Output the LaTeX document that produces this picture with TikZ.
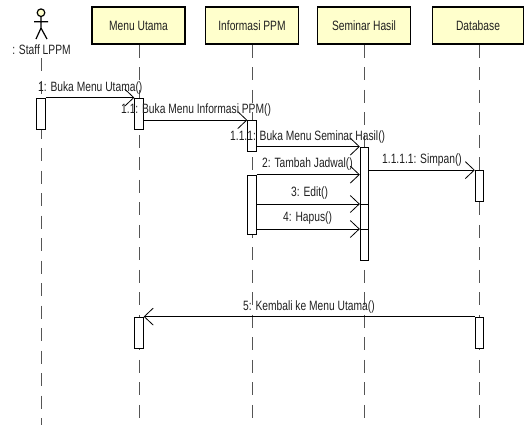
\documentclass[tikz,border=0pt]{standalone}
\usepackage{fontspec}
\setmainfont{Liberation Sans}
\usetikzlibrary{arrows.meta}
\definecolor{boxfill}{HTML}{FFFFCC}
\definecolor{txt}{HTML}{202020}
\definecolor{life}{HTML}{555555}
\newcommand{\lbl}[1]{\scalebox{0.76}[1]{#1}}
\tikzset{
  x=1bp,y=-1bp,
  objbox/.style={draw=black,line width=1.5bp,fill=boxfill,minimum width=93bp,minimum height=37bp,inner sep=0pt,text=txt,font=\fontsize{13.5bp}{15bp}\selectfont},
  lifeline/.style={draw=life,line width=1bp,dash pattern=on 13bp off 9.5bp},
  activation/.style={draw=black,line width=0.8bp,fill=white,minimum width=8.5bp,inner sep=0pt},
  msg/.style={draw=black,line width=0.9bp,-{Straight Barb[length=9bp,width=17bp,line width=0.8bp]}},
  msglabel/.style={text=txt,inner sep=0pt,font=\fontsize{13.5bp}{15bp}\selectfont},
  actorpart/.style={draw=black,line width=1.2bp}
}
\begin{document}
\begin{tikzpicture}
\useasboundingbox (0,0) rectangle (524,425);
% objects
\node[objbox] (menu) at (138.5,25.5) {\lbl{Menu Utama}};
\node[objbox] (info) at (252,25.5) {\lbl{Informasi PPM}};
\node[objbox] (sem) at (364,25.5) {\lbl{Seminar Hasil}};
\node[objbox,minimum width=91bp] (db) at (478,25.5) {\lbl{Database}};
% actor
\draw[actorpart,fill=boxfill] (41,12.7) circle (3.8);
\draw[actorpart] (41,16.5) -- (41,28) (34,21.7) -- (48,21.7) (36,39) -- (41,28) -- (47,39);
\node[msglabel] (staff) at (41.5,50) {\lbl{: Staff LPPM}};
% lifeline ends
\coordinate (staffstart) at (41,58);
\coordinate (staffend) at (41,425);
\coordinate (menuend) at (139,418);
\coordinate (infoend) at (252,418);
\coordinate (semend) at (364,418);
\coordinate (dbend) at (479,418);
\draw[lifeline] (staffstart) -- (staffend);
\draw[lifeline] (menu.south -| menuend) -- (menuend);
\draw[lifeline] (info.south -| infoend) -- (infoend);
\draw[lifeline] (sem.south -| semend) -- (semend);
\draw[lifeline] (db.south -| dbend) -- (dbend);
% activations
\node[activation,minimum height=31bp] (a1) at (41,113.5) {};
\node[activation,minimum height=31bp] (m1) at (139,113.5) {};
\node[activation,minimum height=31bp] (i1) at (252,136) {};
\node[activation,minimum height=113bp] (s1) at (364.5,203.5) {};
\node[activation,minimum height=31bp] (d1) at (479.5,186) {};
\node[activation,minimum height=59bp] (i2) at (252,204.5) {};
\node[activation,minimum height=31bp] (m2) at (139,332.5) {};
\node[activation,minimum height=31bp] (d2) at (479.5,332.5) {};
% helper rows
\coordinate (r3) at (0,204);
\coordinate (r4) at (0,229);
% messages
\draw[msg] (a1.north east) -- (m1.north west);
\draw[msg] (m1.east |- i1.north) -- (i1.north west);
\draw[msg] (i1.east |- s1.north) -- (s1.north west);
\draw[msg] (s1.east |- d1.north) -- (d1.north west);
\draw[msg] (i2.north east) -- (s1.west |- i2.north);
\draw[msg] (i2.east |- r3) -- (s1.west |- r3);
\draw[msg] (i2.east |- r4) -- (s1.west |- r4);
\draw (s1.west |- r3) -- (s1.east |- r3);
\draw (s1.west |- r4) -- (s1.east |- r4);
\draw[msg] (d2.north west) -- (m2.north east);
% labels
\node[msglabel,anchor=west] at (38,88) {\lbl{1: Buka Menu Utama()}};
\node[msglabel,anchor=west] at (121,110) {\lbl{1.1: Buka Menu Informasi PPM()}};
\node[msglabel,anchor=west] at (230,137) {\lbl{1.1.1: Buka Menu Seminar Hasil()}};
\node[msglabel,anchor=west] at (262,164) {\lbl{2: Tambah Jadwal()}};
\node[msglabel,anchor=west] at (382,160) {\lbl{1.1.1.1: Simpan()}};
\node[msglabel,anchor=west] at (291,193) {\lbl{3: Edit()}};
\node[msglabel,anchor=west] at (283,218) {\lbl{4: Hapus()}};
\node[msglabel,anchor=west] at (243,307) {\lbl{5: Kembali ke Menu Utama()}};
\end{tikzpicture}
\end{document}
